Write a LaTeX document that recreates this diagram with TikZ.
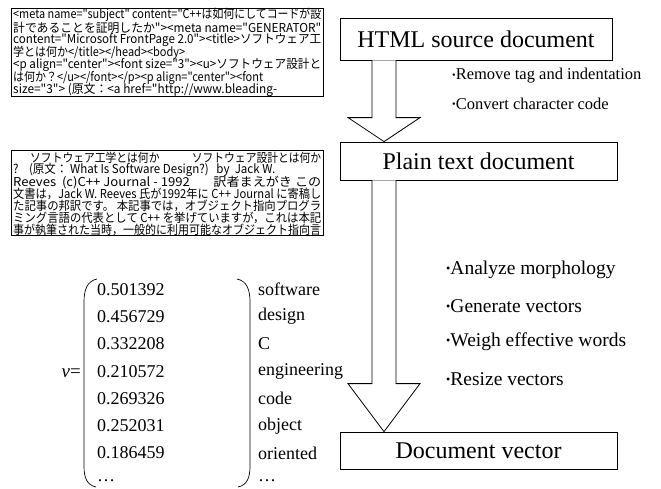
\documentclass[tikz,border=0pt]{standalone}
\usepackage{fontspec}
\usepackage{graphicx}
\setmainfont{Liberation Serif}
\newfontfamily\jpf{Noto Sans CJK JP}
\usetikzlibrary{calc}
% one line of Japanese/HTML text, stretched to a given width
\newcommand\jl[2]{\resizebox{#1}{\height}{\jpf\fontsize{12.3}{12}\selectfont #2}}
% small raised bullet used in front of the processing steps
\newcommand\bu{\raisebox{0.25ex}{\scalebox{0.62}{\textbullet}}}
\begin{document}
\begin{tikzpicture}[x=1pt,y=-1pt,
  stepbox/.style={draw,line width=0.8pt,inner sep=0pt,font=\fontsize{24}{28}\selectfont},
  txtbox/.style={draw,line width=0.7pt,inner sep=0pt},
  jline/.style={anchor=west,inner sep=0pt},
  bul/.style={anchor=west,inner sep=0pt},
  vec/.style={anchor=west,inner sep=0pt,font=\fontsize{18}{20}\selectfont},
  blockarrow/.style={draw,line width=0.8pt,fill=white,line join=miter}]
\useasboundingbox (0,0) rectangle (661,488);

% ---- HTML source sample ----
\node[txtbox,minimum width=312pt,minimum height=88pt] (srcbox) at (167,52) {};
\node[jline] (a1) at (13,15)  {\jl{308pt}{<meta name="subject" content="C++は如何にしてコードが設}};
\node[jline] (a2) at (13,27.5){\jl{308pt}{計であることを証明したか"><meta name="GENERATOR"}};
\node[jline] (a3) at (13,40)  {\jl{308pt}{content="Microsoft FrontPage 2.0"><title>ソフトウェア工}};
\node[jline] (a4) at (13,52.5){\jl{172pt}{学とは何か</title></head><body>}};
\node[jline] (a5) at (13,65)  {\jl{308pt}{<p align="center"><font size="3"><u>ソフトウェア設計と}};
\node[jline] (a6) at (13,77.5){\jl{250pt}{は何か？</u></font></p><p align="center"><font}};
\node[jline] (a7) at (13,90)  {\jl{264pt}{size="3"> (原文：<a href="http://www.bleading-}};

% ---- plain text sample ----
\node[txtbox,minimum width=312pt,minimum height=85pt] (txtbox) at (167,192.5) {};
\node[jline] (b1) at (30,158) {\jl{291pt}{ソフトウェア工学とは何か　　　ソフトウェア設計とは何か}};
\node[jline] (b2) at (13,170) {\jl{262pt}{?\ \ \ \ (原文： What Is Software Design?)\ \ \ by\ \ Jack W.}};
\node[jline] (b3) at (13,182) {\jl{308pt}{Reeves\ \ (c)C++ Journal - 1992\ \ \ \ \ \ \ \ 訳者まえがき この}};
\node[jline] (b4) at (13,194) {\jl{308pt}{文書は，Jack W. Reeves 氏が1992年に C++ Journal に寄稿し}};
\node[jline] (b5) at (13,206) {\jl{308pt}{た記事の邦訳です。 本記事では，オブジェクト指向プログラ}};
\node[jline] (b6) at (13,218) {\jl{308pt}{ミング言語の代表として C++ を挙げていますが，これは本記}};
\node[jline] (b7) at (13,230) {\jl{308pt}{事が執筆された当時，一般的に利用可能なオブジェクト指向言}};

% ---- document vector ----
\node[anchor=east,inner sep=0pt,font=\fontsize{19}{20}\selectfont] (veq) at (81,373) {\textit{v}=};
\draw[line width=0.7pt] (97,279) .. controls (87,281) and (84,290) .. (84,302) -- (84,466)
      .. controls (84,478) and (87,485) .. (96,487);
\draw[line width=0.7pt] (237,279) .. controls (247,281) and (250,290) .. (250,302) -- (250,466)
      .. controls (250,478) and (247,485) .. (238,487);
\foreach \v/\w [count=\i] in {0.501392/software,0.456729/design,0.332208/C,
    0.210572/engineering,0.269326/code,0.252031/object,0.186459/oriented,\dots/\dots}{
  \node[vec] (num\i) at (97,262+27.3*\i) {\v};
  \node[vec] (word\i) at (258,262+27.3*\i) {\w};
}

% ---- processing chain ----
\node[stepbox,minimum width=272pt,minimum height=42pt] (html) at (476,39) {HTML source document};
\node[stepbox,minimum width=277pt,minimum height=38pt] (plain) at (478.5,161) {Plain text document};
\node[stepbox,minimum width=277pt,minimum height=37pt] (docvec) at (478.5,450.5) {Document vector};

\coordinate (sl) at (372,0);
\coordinate (sr) at (396,0);
\coordinate (hl) at (348,0);
\coordinate (hr) at (420,0);
\coordinate (mid) at (384,0);
\coordinate (h1) at ($(plain.north -| mid)+(0,-24)$);
\coordinate (h2) at ($(docvec.north -| mid)+(0,-48)$);

\draw[blockarrow] (html.south -| sl) -- (h1 -| sl) -- (h1 -| hl) -- (plain.north -| mid)
  -- (h1 -| hr) -- (h1 -| sr) -- (html.south -| sr);
\draw[blockarrow] (plain.south -| sl) -- (h2 -| sl) -- (h2 -| hl) -- (docvec.north -| mid)
  -- (h2 -| hr) -- (h2 -| sr) -- (plain.south -| sr);

\node[bul,font=\fontsize{16.5}{18}\selectfont] (s1) at (452,76)  {\bu Remove tag and indentation};
\node[bul,font=\fontsize{16.5}{18}\selectfont] (s2) at (452,104) {\bu Convert character code};
\node[bul,font=\fontsize{19.5}{20}\selectfont] (s3) at (446,270) {\bu Analyze morphology};
\node[bul,font=\fontsize{19.5}{20}\selectfont] (s4) at (446,306) {\bu Generate vectors};
\node[bul,font=\fontsize{19.5}{20}\selectfont] (s5) at (446,342) {\bu Weigh effective words};
\node[bul,font=\fontsize{19.5}{20}\selectfont] (s6) at (446,379) {\bu Resize vectors};
\end{tikzpicture}
\end{document}
